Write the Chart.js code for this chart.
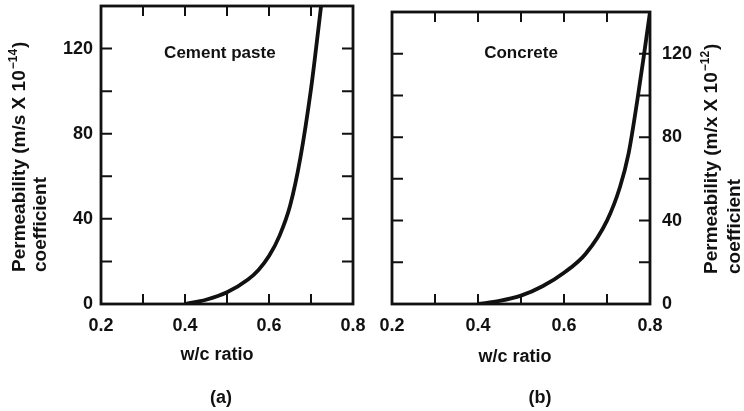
<!doctype html>
<html>

<head>
	<title>Permeability coefficient vs w/c ratio</title>
	<script src="https://cdn.jsdelivr.net/npm/chart.js@4.4.1/dist/chart.umd.min.js"></script>
	<style>
		body {
			margin: 0;
			background: #fff;
		}

		#container {
			position: relative;
			width: 744px;
			height: 411px;
		}

		.panel {
			position: absolute;
			top: 0;
			width: 372px;
			height: 411px;
		}

		#panelA { left: 0; }
		#panelB { left: 372px; }
	</style>
</head>

<body>
<div id="container">
	<div class="panel" id="panelA"><canvas id="canvasA"></canvas></div>
	<div class="panel" id="panelB"><canvas id="canvasB"></canvas></div>
</div>
<script>

	// values
	var wcPaste = [0.40, 0.45, 0.50, 0.55, 0.575, 0.60, 0.625, 0.65, 0.675, 0.70, 0.712, 0.724];
	var permPaste = [0, 2, 5.5, 11.5, 16, 22.5, 32, 46, 69, 101, 120, 140];

	var wcConcrete = [0.40, 0.45, 0.50, 0.55, 0.60, 0.65, 0.70, 0.73, 0.75, 0.77, 0.785, 0.80];
	var permConcrete = [0, 1.5, 4, 8.5, 15, 24, 40, 56, 72, 97, 118, 140];

	// labelled ticks
	var xTickLabels = [0.2, 0.4, 0.6, 0.8];
	var yTickLabels = [0, 40, 80, 120];

	var FONT = '"Liberation Sans", Arial, sans-serif';
	var INK = '#111';

	function toPoints(xs, ys) {
		var pts = [];
		for (var i = 0; i < xs.length; i++) {
			pts.push({ x: xs[i], y: ys[i] });
		}
		return pts;
	}

	// draws "Permeability (m/s X 10^-14)" rotated, with superscript, starting at the bottom
	function drawRotatedTitle(ctx, x, yBottom, main, sup) {
		ctx.save();
		ctx.translate(x, yBottom);
		ctx.rotate(-Math.PI / 2);
		ctx.textAlign = 'left';
		ctx.textBaseline = 'middle';
		ctx.font = 'bold 19px ' + FONT;
		ctx.fillText(main, 0, 0);
		var w = ctx.measureText(main).width;
		ctx.font = 'bold 12px ' + FONT;
		ctx.fillText(sup, w + 1, -6);
		var w2 = ctx.measureText(sup).width;
		ctx.font = 'bold 19px ' + FONT;
		ctx.fillText(')', w + w2 + 2, 0);
		ctx.restore();
	}

	var framePlugin = {
		id: 'frame',
		afterDraw: function (chart, args, opts) {
			var ctx = chart.ctx;
			var a = chart.chartArea;
			var xs = chart.scales.x;
			var ys = chart.scales.y;

			ctx.save();
			ctx.strokeStyle = INK;
			ctx.fillStyle = INK;

			// tick marks, pointing inwards on all four sides
			ctx.lineWidth = 2;
			ctx.beginPath();
			xs.ticks.forEach(function (t) {
				if (t.value <= xs.min + 1e-9 || t.value >= xs.max - 1e-9) return;
				var px = xs.getPixelForValue(t.value);
				ctx.moveTo(px, a.bottom);
				ctx.lineTo(px, a.bottom - 10);
				ctx.moveTo(px, a.top);
				ctx.lineTo(px, a.top + 10);
			});
			ys.ticks.forEach(function (t) {
				if (t.value <= ys.min || t.value >= ys.max) return;
				var py = ys.getPixelForValue(t.value);
				ctx.moveTo(a.left, py);
				ctx.lineTo(a.left + 11, py);
				ctx.moveTo(a.right, py);
				ctx.lineTo(a.right - 11, py);
			});
			ctx.stroke();

			// frame
			ctx.lineWidth = 2.8;
			ctx.strokeRect(a.left, a.top, a.right - a.left, a.bottom - a.top);

			// curve label inside the plot
			ctx.textAlign = 'center';
			ctx.textBaseline = 'middle';
			ctx.font = 'bold 17px ' + FONT;
			ctx.fillText(opts.label, xs.getPixelForValue(opts.labelAt[0]), ys.getPixelForValue(opts.labelAt[1]));

			// x title and panel letter
			ctx.font = 'bold 18px ' + FONT;
			ctx.fillText('w/c ratio', opts.xTitle[0], opts.xTitle[1]);
			ctx.fillText(opts.panel, opts.panelAt[0], opts.panelAt[1]);

			// y title, two lines
			drawRotatedTitle(ctx, opts.yTitle[0], opts.yTitle[2], opts.yTitleMain, opts.yTitleSup);
			ctx.save();
			ctx.translate(opts.yTitle[1], opts.yTitle[2]);
			ctx.rotate(-Math.PI / 2);
			ctx.textAlign = 'left';
			ctx.font = 'bold 19px ' + FONT;
			ctx.fillText('coefficient', 0, 0);
			ctx.restore();

			ctx.restore();
		}
	};

	function makeChart(canvasId, pts, yPos, yWidth, padding, extra) {
		var ctx = document.getElementById(canvasId).getContext('2d');
		return new Chart(ctx, {
			type: 'line',
			data: {
				datasets: [{
					data: pts,
					borderColor: INK,
					borderWidth: 3.8,
					pointRadius: 0,
					fill: false,
					cubicInterpolationMode: 'monotone'
				}]
			},
			options: {
				responsive: true,
				maintainAspectRatio: false,
				animation: false,
				layout: { padding: padding },
				plugins: {
					legend: { display: false },
					tooltip: { enabled: false },
					frame: extra
				},
				scales: {
					x: {
						type: 'linear',
						position: 'bottom',
						min: 0.2,
						max: 0.8,
						grid: { display: false, drawTicks: false },
						border: { display: false },
						ticks: {
							stepSize: 0.1,
							padding: 11,
							maxRotation: 0,
							autoSkip: false,
							color: INK,
							font: { family: FONT, size: 18, weight: 'bold' },
							callback: function (v) {
								var r = Math.round(v * 10) / 10;
								return xTickLabels.indexOf(r) >= 0 ? r.toFixed(1) : '';
							}
						},
						afterFit: function (s) {
							s.height = 107;
							s.paddingLeft = 0;
							s.paddingRight = 0;
						}
					},
					y: {
						type: 'linear',
						position: yPos,
						min: 0,
						max: 140,
						grid: { display: false, drawTicks: false },
						border: { display: false },
						ticks: {
							stepSize: 20,
							padding: yPos === 'left' ? 8 : 12,
							color: INK,
							font: { family: FONT, size: 18, weight: 'bold' },
							callback: function (v) {
								return yTickLabels.indexOf(v) >= 0 ? String(v) : '';
							}
						},
						afterFit: function (s) {
							s.width = yWidth;
							s.paddingTop = 0;
							s.paddingBottom = 0;
						}
					}
				}
			},
			plugins: [framePlugin]
		});
	}

	makeChart('canvasA', toPoints(wcPaste, permPaste), 'left', 101,
		{ left: 0, right: 19, top: 6, bottom: 0 },
		{
			label: 'Cement paste', labelAt: [0.483, 118],
			xTitle: [217, 355], panel: '(a)', panelAt: [221, 398],
			yTitle: [20, 41, 272],
			yTitleMain: 'Permeability (m/s X 10', yTitleSup: '\u221214'
		});

	makeChart('canvasB', toPoints(wcConcrete, permConcrete), 'right', 94,
		{ left: 20, right: 0, top: 12, bottom: 0 },
		{
			label: 'Concrete', labelAt: [0.5, 120],
			xTitle: [143, 357], panel: '(b)', panelAt: [168, 398],
			yTitle: [340, 363, 274],
			yTitleMain: 'Permeability (m/x X 10', yTitleSup: '\u221212'
		});

</script>
</body>

</html>
